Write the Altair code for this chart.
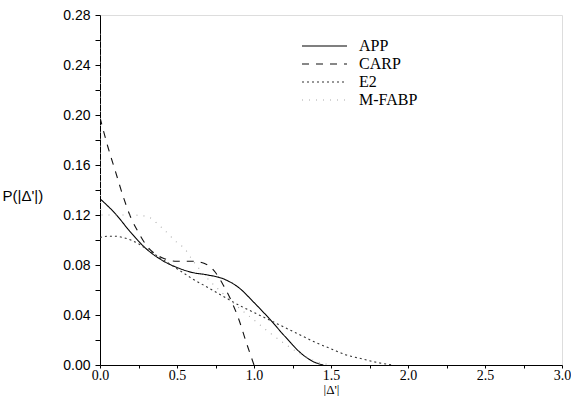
import altair as alt
import pandas as pd

# ---- data ----
app_x = [0.0, 0.1, 0.2, 0.3, 0.4, 0.5, 0.6, 0.7, 0.8, 0.9, 1.0, 1.1, 1.2, 1.3, 1.38, 1.45]
app_y = [0.133, 0.121, 0.106, 0.093, 0.084, 0.078, 0.074, 0.072, 0.069, 0.062, 0.050, 0.037, 0.023, 0.010, 0.003, 0.0]

carp_x = [0.0, 0.05, 0.1, 0.15, 0.2, 0.25, 0.3, 0.4, 0.5, 0.6, 0.7, 0.75, 0.8, 0.85, 0.9, 0.95, 1.0]
carp_y = [0.198, 0.175, 0.155, 0.135, 0.118, 0.106, 0.096, 0.086, 0.083, 0.083, 0.080, 0.074, 0.064, 0.052, 0.037, 0.018, 0.0]

e2_x = [0.0, 0.05, 0.1, 0.15, 0.2, 0.25, 0.3, 0.4, 0.5, 0.6, 0.7, 0.8, 0.9, 1.0, 1.1, 1.2, 1.3, 1.4, 1.5, 1.6, 1.7, 1.8, 1.9]
e2_y = [0.102, 0.103, 0.103, 0.102, 0.100, 0.097, 0.093, 0.085, 0.077, 0.069, 0.062, 0.055, 0.048, 0.042, 0.036, 0.030, 0.024, 0.018, 0.013, 0.008, 0.005, 0.002, 0.0]

mfabp_x = [0.0, 0.005, 0.1, 0.2, 0.3, 0.4, 0.5, 0.55, 0.6, 0.7, 0.8, 0.9, 1.0, 1.1, 1.2, 1.3, 1.4, 1.5]
mfabp_y = [0.265, 0.120, 0.120, 0.120, 0.119, 0.110, 0.098, 0.093, 0.084, 0.069, 0.057, 0.046, 0.036, 0.026, 0.017, 0.009, 0.003, 0.0]

series = ["APP", "CARP", "E2", "M-FABP"]
y_ticks = [round(0.02 * i, 2) for i in range(15)]
x_ticks = [0.25 * i for i in range(13)]

frames = []
for name, xs, ys in [("APP", app_x, app_y), ("CARP", carp_x, carp_y),
                     ("E2", e2_x, e2_y), ("M-FABP", mfabp_x, mfabp_y)]:
    frames.append(pd.DataFrame({"x": xs, "y": ys, "series": name, "order": range(len(xs))}))
df = pd.concat(frames, ignore_index=True)
legend_df = pd.DataFrame({"series": series})

color_scale = alt.Scale(domain=series, range=["#000000", "#111111", "#333333", "#aaaaaa"])
dash_scale = alt.Scale(domain=series, range=[[1, 0], [7, 7], [2, 3], [1, 6]])

lines = alt.Chart(df).mark_line(strokeWidth=1.1, clip=True, interpolate="monotone").encode(
    x=alt.X("x:Q", scale=alt.Scale(domain=[0, 3.0], nice=False),
            axis=alt.Axis(values=x_ticks, title="|Δ'|",
                          labelExpr="datum.value % 0.5 == 0 ? format(datum.value, '.1f') : ''",
                          labelFont="Liberation Serif", labelFontSize=14, labelColor="#000",
                          labelPadding=0, tickSize=3, tickColor="#000", domainColor="#000",
                          titleFont="Liberation Serif", titleFontSize=13, titleFontWeight="normal",
                          titleColor="#000", titlePadding=1, grid=False, labelFlush=False)),
    y=alt.Y("y:Q", scale=alt.Scale(domain=[0, 0.28], nice=False),
            axis=alt.Axis(values=y_ticks, title="P(|Δ'|)",
                          labelExpr="round(datum.value*100) % 4 == 0 ? format(datum.value, '.2f') : ''",
                          labelFont="Liberation Sans", labelFontSize=14, labelColor="#000",
                          labelPadding=5, tickSize=5, tickColor="#000", domainColor="#000",
                          titleFont="Liberation Sans", titleFontSize=15, titleFontWeight="normal",
                          titleColor="#000", titleAngle=0, titleAlign="left", titleBaseline="middle",
                          titleX=-98, titleY=180, grid=False)),
    color=alt.Color("series:N", scale=color_scale, legend=None),
    strokeDash=alt.StrokeDash("series:N", scale=dash_scale, legend=None),
    order="order:Q",
)

leg_y = alt.Y("series:N", scale=alt.Scale(type="point", domain=series, range=[31, 85], padding=0),
              axis=None)
leg_lines = alt.Chart(legend_df).mark_rule(strokeWidth=1.1).encode(
    y=leg_y, x=alt.value(202), x2=alt.value(247),
    color=alt.Color("series:N", scale=color_scale, legend=None),
    strokeDash=alt.StrokeDash("series:N", scale=dash_scale, legend=None),
)
leg_text = alt.Chart(legend_df).mark_text(
    align="left", baseline="middle", font="Liberation Serif", fontSize=16, color="#000"
).encode(y=leg_y, x=alt.value(259), text="series:N")

chart = alt.layer(lines, leg_lines, leg_text).resolve_scale(y="independent").properties(
    width=462, height=350
).configure_view(stroke=None).configure(
    padding={"left": 2, "top": 8, "right": 0, "bottom": 0}
)

chart.save("out.html", embed_options={"renderer": "svg", "actions": False})
